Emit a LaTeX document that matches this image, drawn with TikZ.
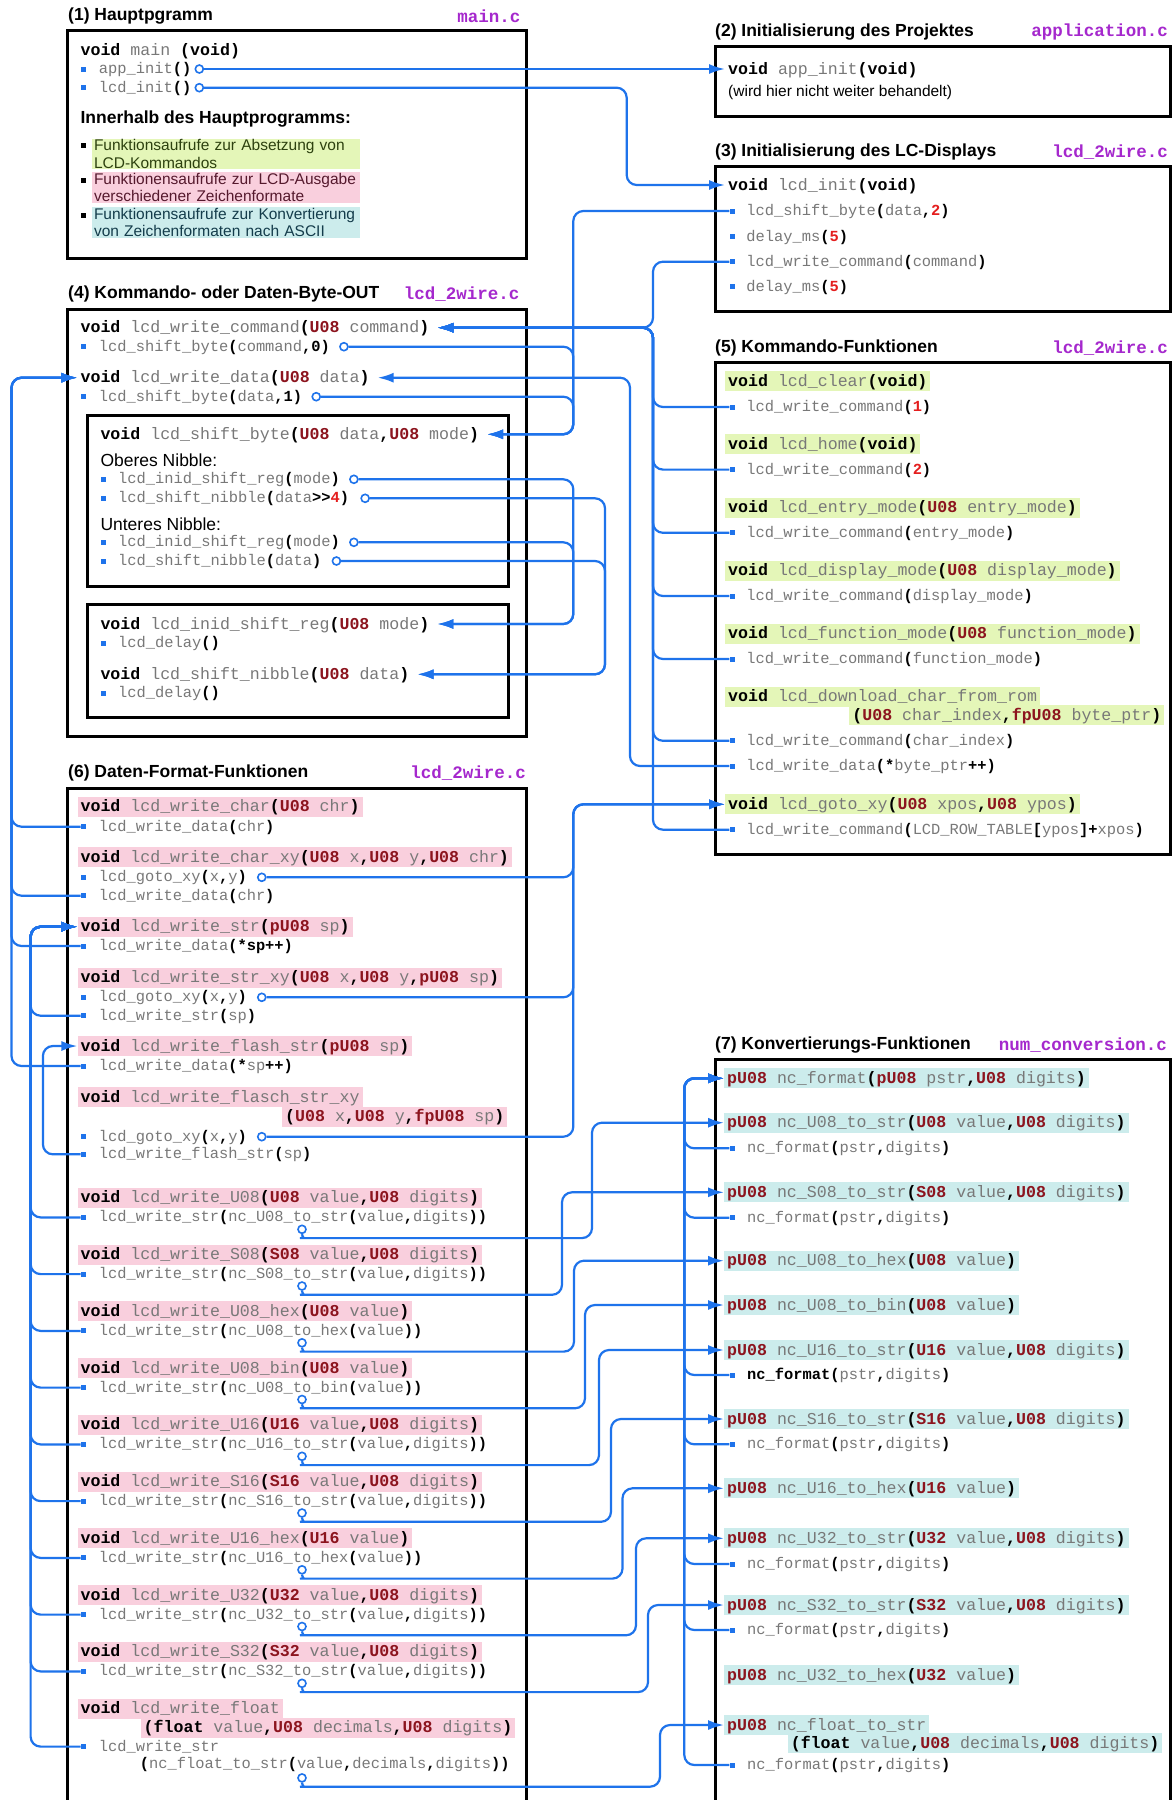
\documentclass[tikz,border=0pt]{standalone}
\usepackage{fontspec}
\setmainfont{Liberation Sans}
\newfontfamily\codefont{Liberation Mono}
\usepackage{tikz}
\usetikzlibrary{positioning}
\usetikzlibrary{arrows.meta}

\definecolor{wireblue}{RGB}{30,115,235}
\definecolor{codegray}{RGB}{120,120,120}
\definecolor{typered}{RGB}{140,20,30}
\definecolor{numred}{RGB}{228,30,30}
\definecolor{filepurple}{RGB}{165,40,205}
\definecolor{hlgreen}{RGB}{228,246,184}
\definecolor{hlpink}{RGB}{249,207,221}
\definecolor{hlcyan}{RGB}{204,236,236}
\definecolor{txgreen}{RGB}{45,65,15}
\definecolor{txpink}{RGB}{85,25,45}
\definecolor{txcyan}{RGB}{20,60,75}

\newcommand\kw[1]{{\color{black}\bfseries #1}}
\newcommand\ty[1]{{\color{typered}\bfseries #1}}
\newcommand\nr[1]{{\color{numred}\bfseries #1}}
\newcommand\declfont{\codefont\fontsize{16.6pt}{19pt}\selectfont}
\newcommand\callfont{\codefont\fontsize{15.4pt}{18pt}\selectfont}
\newcommand\filefont{\codefont\bfseries\fontsize{17.5pt}{20pt}\selectfont}
\newcommand\headfont{\bfseries\fontsize{17.5pt}{20pt}\selectfont}
\newcommand\legfont{\fontsize{15.5pt}{17.3pt}\selectfont}
\newcommand\nibfont{\fontsize{17.5pt}{20pt}\selectfont}

\tikzset{
  frame/.style={draw,line width=3pt},
  head/.style={anchor=west,inner sep=0pt,font=\headfont},
  file/.style={anchor=east,inner sep=0pt,font=\filefont,text=filepurple},
  nib/.style={anchor=west,inner sep=0pt,font=\nibfont},
  decl/.style={anchor=west,inner xsep=3pt,inner ysep=3pt,text height=12pt,text depth=2pt,font=\declfont,text=codegray},
  call/.style={anchor=west,inner sep=0pt,text height=11pt,text depth=2pt,font=\callfont,text=codegray},
  cmdhl/.style={decl,fill=hlgreen},
  strhl/.style={decl,fill=hlpink},
  nchl/.style={decl,fill=hlcyan},
  legend/.style={anchor=north west,inner xsep=2pt,inner ysep=1pt,text width=264pt,align=left,font=\legfont},
  blt/.style={fill=wireblue,minimum size=5pt,inner sep=0pt},
  lbt/.style={fill=black,minimum size=5pt,inner sep=0pt},
  src/.style={circle,draw=wireblue,fill=white,line width=1.6pt,minimum size=8pt,inner sep=0pt},
  wire/.style={draw=wireblue,line width=2.2pt,rounded corners=10pt},
  hit/.style={-{Latex[length=16pt,width=10pt]}},
  back/.style={shorten >=5pt}
}

\begin{document}
\begin{tikzpicture}[x=1pt,y=-1pt]
\fill[white](0,0) rectangle (1173,1800);
\useasboundingbox (0,0) rectangle (1173,1800);

\draw[frame](67,30.7) rectangle (526,258);
\draw[frame](715,46.7) rectangle (1170,116);
\draw[frame](715,166.7) rectangle (1170,311.7);
\draw[frame](67,309.3) rectangle (526,736.7);
\draw[frame](87.3,415) rectangle (508,586);
\draw[frame](87.3,604.3) rectangle (508,717.7);
\draw[frame](715,362) rectangle (1170,854);
\draw[frame](67,1806) |- (526,788) -- (526,1806);
\draw[frame](715,1806) |- (1170,1059) -- (1170,1806);

\node[head](h1) at (68,16){(1) Hauptpgramm};
\node[file](f1) at (520.5,16){main.c};
\node[decl](mn) at (77.4,50){\kw{void} main \kw{(void)}};
\node[blt](b1a) at (83.4,69){};
\node[call](c1a) at (98.7,69){app\_init\kw{()}};
\node[src,right=3pt of c1a](o1a){};
\node[blt](b1b) at (83.4,87.7){};
\node[call](c1b) at (98.7,87.7){lcd\_init\kw{()}};
\node[src,right=3pt of c1b](o1b){};
\node[head](inn) at (80.4,119){Innerhalb des Hauptprogramms:};
\node[legend,fill=hlgreen,text=txgreen](lg1) at (91.8,138.3){Funktionsaufrufe zur Absetzung von\\LCD-Kommandos};
\node[legend,fill=hlpink,text=txpink](lg2) at (91.8,171.7){Funktionensaufrufe zur LCD-Ausgabe\\verschiedener Zeichenformate};
\node[legend,fill=hlcyan,text=txcyan](lg3) at (91.8,206.7){Funktionensaufrufe zur Konvertierung\\von Zeichenformaten nach ASCII};
\node[lbt](l1) at (83.4,145){};
\node[lbt](l2) at (83.4,180){};
\node[lbt](l3) at (83.4,215){};

\node[head](h2) at (715,32.3){(2) Initialisierung des Projektes};
\node[file](f2) at (1168,32.3){application.c};
\node[decl](ai) at (725,69){\kw{void} app\_init\kw{(void)}};
\node[nib,font=\legfont](ain) at (728,92.3){(wird hier nicht weiter behandelt)};

\node[head](h3) at (715,152.3){(3) Initialisierung des LC-Displays};
\node[file](f3) at (1168,152.3){lcd\_2wire.c};
\node[decl](li) at (725,185){\kw{void} lcd\_init\kw{(void)}};
\node[blt](b3a) at (732,211){};
\node[call](c3a) at (746.2,211){lcd\_shift\_byte\kw{(}data\kw{,}\nr{2}\kw{)}};
\node[blt](b3b) at (732,236.7){};
\node[call](c3b) at (746.2,236.7){delay\_ms\kw{(}\nr{5}\kw{)}};
\node[blt](b3c) at (732,261.7){};
\node[call](c3c) at (746.2,261.7){lcd\_write\_command\kw{(}command\kw{)}};
\node[blt](b3d) at (732,286.7){};
\node[call](c3d) at (746.2,286.7){delay\_ms\kw{(}\nr{5}\kw{)}};

\node[head](h4) at (68,294){(4) Kommando- oder Daten-Byte-OUT};
\node[file](f4) at (519.7,294){lcd\_2wire.c};
\node[decl](wcd) at (77.4,327.7){\kw{void} lcd\_write\_command\kw{(}\ty{U08} command\kw{)}};
\node[blt](b4a) at (83.4,346.7){};
\node[call](c4a) at (98.7,346.7){lcd\_shift\_byte\kw{(}command\kw{,0)}};
\node[src,right=9pt of c4a](o4a){};
\node[decl](wdd) at (77.4,377.7){\kw{void} lcd\_write\_data\kw{(}\ty{U08} data\kw{)}};
\node[blt](b4b) at (83.4,396.7){};
\node[call](c4b) at (98.7,396.7){lcd\_shift\_byte\kw{(}data\kw{,1)}};
\node[src,right=9pt of c4b](o4b){};
\node[decl](sbd) at (97.3,434.3){\kw{void} lcd\_shift\_byte\kw{(}\ty{U08} data\kw{,}\ty{U08} mode\kw{)}};
\node[nib](ob) at (100.3,460.7){Oberes Nibble:};
\node[blt](b4c) at (103.3,479.3){};
\node[call](c4c) at (117.9,479.3){lcd\_inid\_shift\_reg\kw{(}mode\kw{)}};
\node[src,right=9pt of c4c](o4c){};
\node[blt](b4d) at (103.3,498.3){};
\node[call](c4d) at (117.9,498.3){lcd\_shift\_nibble\kw{(}data\kw{>\kern0pt>}\nr{4}\kw{)}};
\node[src,right=11pt of c4d](o4d){};
\node[nib](ub) at (100.3,524){Unteres Nibble:};
\node[blt](b4e) at (103.3,542.3){};
\node[call](c4e) at (117.9,542.3){lcd\_inid\_shift\_reg\kw{(}mode\kw{)}};
\node[src,right=9pt of c4e](o4e){};
\node[blt](b4f) at (103.3,561){};
\node[call](c4f) at (117.9,561){lcd\_shift\_nibble\kw{(}data\kw{)}};
\node[src,right=10pt of c4f](o4f){};
\node[decl](isd) at (97.3,624){\kw{void} lcd\_inid\_shift\_reg\kw{(}\ty{U08} mode\kw{)}};
\node[blt](b4g) at (103.3,643.3){};
\node[call](c4g) at (117.9,643.3){lcd\_delay\kw{()}};
\node[decl](snd) at (97.3,674.3){\kw{void} lcd\_shift\_nibble\kw{(}\ty{U08} data\kw{)}};
\node[blt](b4h) at (103.3,693.3){};
\node[call](c4h) at (117.9,693.3){lcd\_delay\kw{()}};

\node[head](h5) at (715,347.6){(5) Kommando-Funktionen};
\node[file](f5) at (1168,347.6){lcd\_2wire.c};
\node[cmdhl](d5a) at (725,381.4){\kw{void} lcd\_clear\kw{(void)}};
\node[blt](b5a) at (732,407){};
\node[call](c5a) at (746.2,407){lcd\_write\_command\kw{(}\nr{1}\kw{)}};
\node[cmdhl](d5b) at (725,444.3){\kw{void} lcd\_home\kw{(void)}};
\node[blt](b5b) at (732,469.6){};
\node[call](c5b) at (746.2,469.6){lcd\_write\_command\kw{(}\nr{2}\kw{)}};
\node[cmdhl](d5c) at (725,507.5){\kw{void} lcd\_entry\_mode\kw{(}\ty{U08} entry\_mode\kw{)}};
\node[blt](b5c) at (732,532.8){};
\node[call](c5c) at (746.2,532.8){lcd\_write\_command\kw{(}entry\_mode\kw{)}};
\node[cmdhl](d5d) at (725,570.7){\kw{void} lcd\_display\_mode\kw{(}\ty{U08} display\_mode\kw{)}};
\node[blt](b5d) at (732,596){};
\node[call](c5d) at (746.2,596){lcd\_write\_command\kw{(}display\_mode\kw{)}};
\node[cmdhl](d5e) at (725,633.6){\kw{void} lcd\_function\_mode\kw{(}\ty{U08} function\_mode\kw{)}};
\node[blt](b5e) at (732,659){};
\node[call](c5e) at (746.2,659){lcd\_write\_command\kw{(}function\_mode\kw{)}};
\node[cmdhl](d5f) at (725,696.8){\kw{void} lcd\_download\_char\_from\_rom};
\node[cmdhl](d5g) at (849.2,715.4){\kw{(}\ty{U08} char\_index\kw{,}\ty{fpU08} byte\_ptr\kw{)}};
\node[blt](b5f) at (732,740.8){};
\node[call](c5f) at (746.2,740.8){lcd\_write\_command\kw{(}char\_index\kw{)}};
\node[blt](b5g) at (732,766){};
\node[call](c5g) at (746.2,766){lcd\_write\_data\kw{(*}byte\_ptr\kw{++)}};
\node[cmdhl](gxd) at (725,804.3){\kw{void} lcd\_goto\_xy\kw{(}\ty{U08} xpos\kw{,}\ty{U08} ypos\kw{)}};
\node[blt](b5h) at (732,829.7){};
\node[call](c5h) at (746.2,829.7){lcd\_write\_command\kw{(}LCD\_ROW\_TABLE\kw{[}ypos\kw{]+}xpos\kw{)}};

\node[head](h6) at (68,773){(6) Daten-Format-Funktionen};
\node[file](f6) at (526,773){lcd\_2wire.c};
\node[strhl](d6a) at (77.4,806.7){\kw{void} lcd\_write\_char\kw{(}\ty{U08} chr\kw{)}};
\node[blt](b6a) at (83.4,826.7){};
\node[call](c6a) at (98.7,826.7){lcd\_write\_data\kw{(}chr\kw{)}};
\node[strhl](d6b) at (77.4,857.3){\kw{void} lcd\_write\_char\_xy\kw{(}\ty{U08} x\kw{,}\ty{U08} y\kw{,}\ty{U08} chr\kw{)}};
\node[blt](b6b) at (83.4,877.3){};
\node[call](c6b) at (98.7,877.3){lcd\_goto\_xy\kw{(}x\kw{,}y\kw{)}};
\node[src,right=10pt of c6b](o6b){};
\node[blt](b6c) at (83.4,895.7){};
\node[call](c6c) at (98.7,895.7){lcd\_write\_data\kw{(}chr\kw{)}};
\node[strhl](wsd) at (77.4,926.7){\kw{void} lcd\_write\_str\kw{(}\ty{pU08} sp\kw{)}};
\node[blt](b6d) at (83.4,946){};
\node[call](c6d) at (98.7,946){lcd\_write\_data\kw{(*sp++)}};
\node[strhl](d6d) at (77.4,977.7){\kw{void} lcd\_write\_str\_xy\kw{(}\ty{U08} x\kw{,}\ty{U08} y\kw{,}\ty{pU08} sp\kw{)}};
\node[blt](b6e) at (83.4,997.3){};
\node[call](c6e) at (98.7,997.3){lcd\_goto\_xy\kw{(}x\kw{,}y\kw{)}};
\node[src,right=10pt of c6e](o6e){};
\node[blt](b6f) at (83.4,1015.7){};
\node[call](c6f) at (98.7,1015.7){lcd\_write\_str\kw{(}sp\kw{)}};
\node[strhl](fsd) at (77.4,1046){\kw{void} lcd\_write\_flash\_str\kw{(}\ty{pU08} sp\kw{)}};
\node[blt](b6g) at (83.4,1066){};
\node[call](c6g) at (98.7,1066){lcd\_write\_data\kw{(*}sp\kw{++)}};
\node[strhl](d6f) at (77.4,1097.3){\kw{void} lcd\_write\_flasch\_str\_xy};
\node[strhl](d6g) at (282,1116.7){\kw{(}\ty{U08} x\kw{,}\ty{U08} y\kw{,}\ty{fpU08} sp\kw{)}};
\node[blt](b6h) at (83.4,1136.7){};
\node[call](c6h) at (98.7,1136.7){lcd\_goto\_xy\kw{(}x\kw{,}y\kw{)}};
\node[src,right=10pt of c6h](o6h){};
\node[blt](b6i) at (83.4,1154.3){};
\node[call](c6i) at (98.7,1154.3){lcd\_write\_flash\_str\kw{(}sp\kw{)}};

\node[strhl](w1d) at (77.4,1197.8){\kw{void} lcd\_write\_U08\kw{(}\ty{U08} value\kw{,}\ty{U08} digits\kw{)}};
\node[blt](w1b) at (83.4,1217.4){};
\node[call](w1c) at (98.7,1217.4){lcd\_write\_str\kw{(}nc\_U08\_to\_str\kw{(}value\kw{,}digits\kw{))}};
\node[src](w1o) at (302,1229.3){};
\node[strhl](w2d) at (77.4,1254.5){\kw{void} lcd\_write\_S08\kw{(}\ty{S08} value\kw{,}\ty{U08} digits\kw{)}};
\node[blt](w2b) at (83.4,1274.1){};
\node[call](w2c) at (98.7,1274.1){lcd\_write\_str\kw{(}nc\_S08\_to\_str\kw{(}value\kw{,}digits\kw{))}};
\node[src](w2o) at (302,1286){};
\node[strhl](w3d) at (77.4,1311.3){\kw{void} lcd\_write\_U08\_hex\kw{(}\ty{U08} value\kw{)}};
\node[blt](w3b) at (83.4,1330.9){};
\node[call](w3c) at (98.7,1330.9){lcd\_write\_str\kw{(}nc\_U08\_to\_hex\kw{(}value\kw{))}};
\node[src](w3o) at (302,1342.8){};
\node[strhl](w4d) at (77.4,1368){\kw{void} lcd\_write\_U08\_bin\kw{(}\ty{U08} value\kw{)}};
\node[blt](w4b) at (83.4,1387.6){};
\node[call](w4c) at (98.7,1387.6){lcd\_write\_str\kw{(}nc\_U08\_to\_bin\kw{(}value\kw{))}};
\node[src](w4o) at (302,1399.5){};
\node[strhl](w5d) at (77.4,1424.8){\kw{void} lcd\_write\_U16\kw{(}\ty{U16} value\kw{,}\ty{U08} digits\kw{)}};
\node[blt](w5b) at (83.4,1444.4){};
\node[call](w5c) at (98.7,1444.4){lcd\_write\_str\kw{(}nc\_U16\_to\_str\kw{(}value\kw{,}digits\kw{))}};
\node[src](w5o) at (302,1456.3){};
\node[strhl](w6d) at (77.4,1481.5){\kw{void} lcd\_write\_S16\kw{(}\ty{S16} value\kw{,}\ty{U08} digits\kw{)}};
\node[blt](w6b) at (83.4,1501.1){};
\node[call](w6c) at (98.7,1501.1){lcd\_write\_str\kw{(}nc\_S16\_to\_str\kw{(}value\kw{,}digits\kw{))}};
\node[src](w6o) at (302,1513){};
\node[strhl](w7d) at (77.4,1538.3){\kw{void} lcd\_write\_U16\_hex\kw{(}\ty{U16} value\kw{)}};
\node[blt](w7b) at (83.4,1557.9){};
\node[call](w7c) at (98.7,1557.9){lcd\_write\_str\kw{(}nc\_U16\_to\_hex\kw{(}value\kw{))}};
\node[src](w7o) at (302,1569.8){};
\node[strhl](w8d) at (77.4,1595){\kw{void} lcd\_write\_U32\kw{(}\ty{U32} value\kw{,}\ty{U08} digits\kw{)}};
\node[blt](w8b) at (83.4,1614.6){};
\node[call](w8c) at (98.7,1614.6){lcd\_write\_str\kw{(}nc\_U32\_to\_str\kw{(}value\kw{,}digits\kw{))}};
\node[src](w8o) at (302,1626.5){};
\node[strhl](w9d) at (77.4,1651.8){\kw{void} lcd\_write\_S32\kw{(}\ty{S32} value\kw{,}\ty{U08} digits\kw{)}};
\node[blt](w9b) at (83.4,1671.4){};
\node[call](w9c) at (98.7,1671.4){lcd\_write\_str\kw{(}nc\_S32\_to\_str\kw{(}value\kw{,}digits\kw{))}};
\node[src](w9o) at (302,1683.3){};
\node[strhl](wfd) at (77.4,1708.7){\kw{void} lcd\_write\_float};
\node[strhl](wfe) at (140.5,1727.6){\kw{(float} value\kw{,}\ty{U08} decimals\kw{,}\ty{U08} digits\kw{)}};
\node[blt](wfb) at (83.4,1746.6){};
\node[call](wfc) at (98.7,1746.6){lcd\_write\_str};
\node[call](wfg) at (139.7,1764.4){\kw{(}nc\_float\_to\_str\kw{(}value\kw{,}decimals\kw{,}digits\kw{))}};
\node[src](wfo) at (302,1777.9){};

\node[head](h7) at (715,1045){(7) Konvertierungs-Funktionen};
\node[file](f7) at (1167,1045){num\_conversion.c};
\node[nchl](nf0) at (724,1078.3){\ty{pU08} nc\_format\kw{(}\ty{pU08} pstr\kw{,}\ty{U08} digits\kw{)}};
\node[nchl](n1) at (724,1122.7){\ty{pU08} nc\_U08\_to\_str\kw{(}\ty{U08} value\kw{,}\ty{U08} digits\kw{)}};
\node[blt](m1b) at (732,1148.3){};
\node[call](m1c) at (746.9,1148.3){nc\_format\kw{(}pstr\kw{,}digits\kw{)}};
\node[nchl](n2) at (724,1192.3){\ty{pU08} nc\_S08\_to\_str\kw{(}\ty{S08} value\kw{,}\ty{U08} digits\kw{)}};
\node[blt](m2b) at (732,1217.7){};
\node[call](m2c) at (746.9,1217.7){nc\_format\kw{(}pstr\kw{,}digits\kw{)}};
\node[nchl](n3) at (724,1260.7){\ty{pU08} nc\_U08\_to\_hex\kw{(}\ty{U08} value\kw{)}};
\node[nchl](n4) at (724,1305){\ty{pU08} nc\_U08\_to\_bin\kw{(}\ty{U08} value\kw{)}};
\node[nchl](n5) at (724,1350){\ty{pU08} nc\_U16\_to\_str\kw{(}\ty{U16} value\kw{,}\ty{U08} digits\kw{)}};
\node[blt](m5b) at (732,1375){};
\node[call](m5c) at (746.9,1375){\kw{nc\_format(}pstr\kw{,}digits\kw{)}};
\node[nchl](n6) at (724,1419){\ty{pU08} nc\_S16\_to\_str\kw{(}\ty{S16} value\kw{,}\ty{U08} digits\kw{)}};
\node[blt](m6b) at (732,1444.3){};
\node[call](m6c) at (746.9,1444.3){nc\_format\kw{(}pstr\kw{,}digits\kw{)}};
\node[nchl](n7) at (724,1488.3){\ty{pU08} nc\_U16\_to\_hex\kw{(}\ty{U16} value\kw{)}};
\node[nchl](n8) at (724,1538.3){\ty{pU08} nc\_U32\_to\_str\kw{(}\ty{U32} value\kw{,}\ty{U08} digits\kw{)}};
\node[blt](m8b) at (732,1564){};
\node[call](m8c) at (746.9,1564){nc\_format\kw{(}pstr\kw{,}digits\kw{)}};
\node[nchl](n9) at (724,1605){\ty{pU08} nc\_S32\_to\_str\kw{(}\ty{S32} value\kw{,}\ty{U08} digits\kw{)}};
\node[blt](m9b) at (732,1630){};
\node[call](m9c) at (746.9,1630){nc\_format\kw{(}pstr\kw{,}digits\kw{)}};
\node[nchl](n10) at (724,1675){\ty{pU08} nc\_U32\_to\_hex\kw{(}\ty{U32} value\kw{)}};
\node[nchl](n11) at (724,1725){\ty{pU08} nc\_float\_to\_str};
\node[nchl](n11b) at (787.6,1743.3){\kw{(float} value\kw{,}\ty{U08} decimals\kw{,}\ty{U08} digits\kw{)}};
\node[blt](m11b) at (732,1765){};
\node[call](m11c) at (746.9,1765){nc\_format\kw{(}pstr\kw{,}digits\kw{)}};

\coordinate(lix) at (626.7,0);
\coordinate(sbx) at (573.3,0);
\coordinate(wcx) at (653,0);
\coordinate(wdx) at (630,0);
\coordinate(snx) at (605,0);
\coordinate(ldx) at (11.5,0);
\coordinate(lsx) at (30.6,0);
\coordinate(lfx) at (42.9,0);
\coordinate(nfx) at (684.3,0);
\coordinate(k1x) at (592,0);
\coordinate(k2x) at (562,0);
\coordinate(k3x) at (574,0);
\coordinate(k4x) at (585,0);
\coordinate(k5x) at (599,0);
\coordinate(k6x) at (611,0);
\coordinate(k7x) at (622.5,0);
\coordinate(k8x) at (636,0);
\coordinate(k9x) at (648,0);
\coordinate(kfx) at (660,0);

\draw[wire,hit](o1a) -- (o1a -| ai.west);
\draw[wire,hit](o1b) -- (o1b -| lix) |- (li.west);

\draw[wire,hit,back](b3a) -- (b3a -| sbx) |- (sbd.east);
\draw[wire,hit,back](o4a) -- (o4a -| sbx) |- (sbd.east);
\draw[wire,hit,back](o4b) -- (o4b -| sbx) |- (sbd.east);

\draw[wire,hit,back](b3c) -- (b3c -| wcx) |- (wcd.east);
\draw[wire,hit,back](b5a) -- (b5a -| wcx) |- (wcd.east);
\draw[wire,hit,back](b5b) -- (b5b -| wcx) |- (wcd.east);
\draw[wire,hit,back](b5c) -- (b5c -| wcx) |- (wcd.east);
\draw[wire,hit,back](b5d) -- (b5d -| wcx) |- (wcd.east);
\draw[wire,hit,back](b5e) -- (b5e -| wcx) |- (wcd.east);
\draw[wire,hit,back](b5f) -- (b5f -| wcx) |- (wcd.east);
\draw[wire,hit,back](b5h) -- (b5h -| wcx) |- (wcd.east);

\draw[wire,hit,back](b5g) -- (b5g -| wdx) |- (wdd.east);
\draw[wire,hit](b6a) -- (b6a -| ldx) |- (wdd.west);
\draw[wire,hit](b6c) -- (b6c -| ldx) |- (wdd.west);
\draw[wire,hit](b6d) -- (b6d -| ldx) |- (wdd.west);
\draw[wire,hit](b6g) -- (b6g -| ldx) |- (wdd.west);

\draw[wire,hit,back](o4c) -- (o4c -| sbx) |- (isd.east);
\draw[wire,hit,back](o4e) -- (o4e -| sbx) |- (isd.east);
\draw[wire,hit,back](o4d) -- (o4d -| snx) |- (snd.east);
\draw[wire,hit,back](o4f) -- (o4f -| snx) |- (snd.east);

\draw[wire,hit](o6b) -- (o6b -| sbx) |- (gxd.west);
\draw[wire,hit](o6e) -- (o6e -| sbx) |- (gxd.west);
\draw[wire,hit](o6h) -- (o6h -| sbx) |- (gxd.west);

\draw[wire,hit](b6f) -- (b6f -| lsx) |- (wsd.west);
\draw[wire,hit](w1b) -- (w1b -| lsx) |- (wsd.west);
\draw[wire,hit](w2b) -- (w2b -| lsx) |- (wsd.west);
\draw[wire,hit](w3b) -- (w3b -| lsx) |- (wsd.west);
\draw[wire,hit](w4b) -- (w4b -| lsx) |- (wsd.west);
\draw[wire,hit](w5b) -- (w5b -| lsx) |- (wsd.west);
\draw[wire,hit](w6b) -- (w6b -| lsx) |- (wsd.west);
\draw[wire,hit](w7b) -- (w7b -| lsx) |- (wsd.west);
\draw[wire,hit](w8b) -- (w8b -| lsx) |- (wsd.west);
\draw[wire,hit](w9b) -- (w9b -| lsx) |- (wsd.west);
\draw[wire,hit](wfb) -- (wfb -| lsx) |- (wsd.west);
\draw[wire,hit](b6i) -- (b6i -| lfx) |- (fsd.west);

\draw[wire,hit](m1b) -- (m1b -| nfx) |- (nf0.west);
\draw[wire,hit](m2b) -- (m2b -| nfx) |- (nf0.west);
\draw[wire,hit](m5b) -- (m5b -| nfx) |- (nf0.west);
\draw[wire,hit](m6b) -- (m6b -| nfx) |- (nf0.west);
\draw[wire,hit](m8b) -- (m8b -| nfx) |- (nf0.west);
\draw[wire,hit](m9b) -- (m9b -| nfx) |- (nf0.west);
\draw[wire,hit](m11b) -- (m11b -| nfx) |- (nf0.west);

\draw[wire,hit](w1o.south) to[out=-90,in=180] ++(8,4) -| (k1x |- n1.west) -- (n1.west);
\draw[wire,hit](w2o.south) to[out=-90,in=180] ++(8,4) -| (k2x |- n2.west) -- (n2.west);
\draw[wire,hit](w3o.south) to[out=-90,in=180] ++(8,4) -| (k3x |- n3.west) -- (n3.west);
\draw[wire,hit](w4o.south) to[out=-90,in=180] ++(8,4) -| (k4x |- n4.west) -- (n4.west);
\draw[wire,hit](w5o.south) to[out=-90,in=180] ++(8,4) -| (k5x |- n5.west) -- (n5.west);
\draw[wire,hit](w6o.south) to[out=-90,in=180] ++(8,4) -| (k6x |- n6.west) -- (n6.west);
\draw[wire,hit](w7o.south) to[out=-90,in=180] ++(8,4) -| (k7x |- n7.west) -- (n7.west);
\draw[wire,hit](w8o.south) to[out=-90,in=180] ++(8,4) -| (k8x |- n8.west) -- (n8.west);
\draw[wire,hit](w9o.south) to[out=-90,in=180] ++(8,4) -| (k9x |- n9.west) -- (n9.west);
\draw[wire,hit](wfo.south) to[out=-90,in=180] ++(8,4) -| (kfx |- n11.west) -- (n11.west);
\end{tikzpicture}
\end{document}
